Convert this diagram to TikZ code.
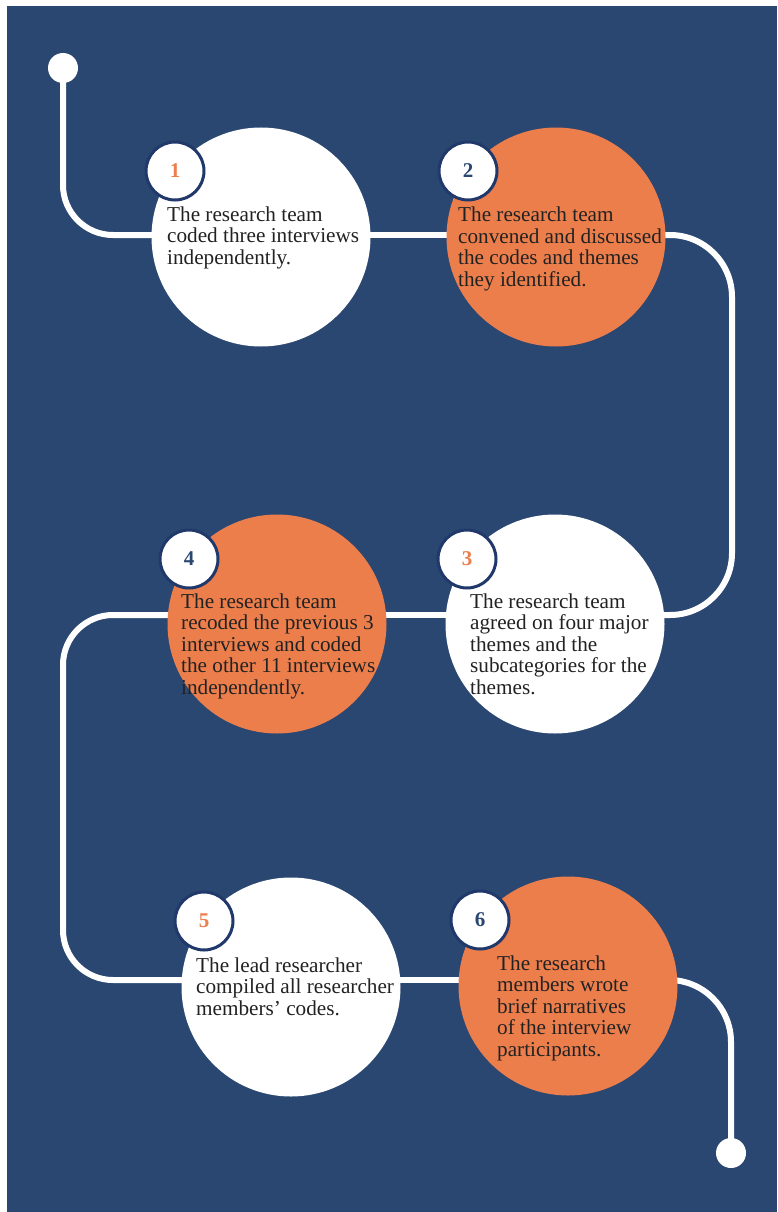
\documentclass[tikz,border=0pt]{standalone}
\usepackage{fontspec}
\setmainfont{Liberation Serif}
\usetikzlibrary{calc}
\definecolor{navy}{HTML}{2A4772}
\definecolor{ring}{HTML}{20396A}
\definecolor{orng}{HTML}{EC7E4C}
\definecolor{txt}{HTML}{222222}
\pgfdeclarelayer{back}
\pgfdeclarelayer{lines}
\pgfsetlayers{back,lines,main}
\tikzset{
  bigw/.style={circle, fill=white, minimum size=219pt, inner sep=0},
  bigo/.style={circle, fill=orng, minimum size=219pt, inner sep=0},
  badge/.style={circle, fill=white, draw=ring, line width=3pt, minimum size=58pt, inner sep=0,
    font=\fontsize{21}{21}\selectfont\bfseries},
  dotend/.style={circle, fill=white, minimum size=30pt, inner sep=0},
  conn/.style={draw=white, line width=6pt},
  desc/.style={anchor=base west, align=left, inner sep=0, text=txt,
    font=\fontsize{21.2}{21.4}\selectfont},
}
\begin{document}
\begin{tikzpicture}[x=1pt,y=-1pt]
\useasboundingbox (0,0) rectangle (777,1212);
\begin{pgfonlayer}{back}
  \fill[navy] (7,6) rectangle (777,1212);
\end{pgfonlayer}
% end dots
\node[dotend] (d1) at (63,68) {};
\node[dotend] (d2) at (731,1153) {};
% big circles
\node[bigw] (c1) at (261,237) {};
\node[bigo] (c2) at (556,237) {};
\node[bigw] (c3) at (555,624) {};
\node[bigo] (c4) at (277,624) {};
\node[bigw] (c5) at (291,987) {};
\node[bigo] (c6) at (568,986) {};
% badges
\node[badge, text=orng] (b1) at (175,171) {1};
\node[badge, text=navy] (b2) at (468,171) {2};
\node[badge, text=orng] (b3) at (467,559) {3};
\node[badge, text=navy] (b4) at (189,559) {4};
\node[badge, text=orng] (b5) at (204,921) {5};
\node[badge, text=navy] (b6) at (480,920) {6};
% texts (anchor = baseline of the last line)
\node[desc] (t1) at (167,264) {The research team\\coded three interviews\\independently.};
\node[desc] (t2) at (458,286) {The research team\\convened and discussed\\the codes and themes\\they identified.};
\node[desc] (t3) at (470,694) {The research team\\agreed on four major\\themes and the\\subcategories for the\\themes.};
\node[desc] (t4) at (181,694) {The research team\\recoded the previous 3\\interviews and coded\\the other 11 interviews\\independently.};
\node[desc] (t5) at (196,1015) {The lead researcher\\compiled all researcher\\members’ codes.};
\node[desc] (t6) at (497,1056) {The research\\members wrote\\brief narratives\\of the interview\\participants.};
% turn points
\coordinate (k1) at (732,235);
\coordinate (k2) at (732,615);
\coordinate (k3) at (63,615);
\coordinate (k4) at (63,980);
\coordinate (k5) at (731,980);
\begin{pgfonlayer}{lines}
  \draw[conn, rounded corners=50pt] (d1.center) |- ($(c1.center)+(0,-2)$);
  \draw[conn] ($(c1.center)+(0,-2)$) -- ($(c2.center)+(0,-2)$);
  \draw[conn, rounded corners=62pt] ($(c2.center)+(0,-2)$) -- (k1) -- (k2) -- ($(c3.center)+(0,-9)$);
  \draw[conn] ($(c3.center)+(0,-9)$) -- ($(c4.center)+(0,-9)$);
  \draw[conn, rounded corners=50pt] ($(c4.center)+(0,-9)$) -- (k3) -- (k4) -- ($(c5.center)+(0,-7)$);
  \draw[conn] ($(c5.center)+(0,-7)$) -- ($(c6.center)+(0,-6)$);
  \draw[conn, rounded corners=62pt] ($(c6.center)+(0,-6)$) -- (k5) -- (d2.center);
\end{pgfonlayer}
\end{tikzpicture}
\end{document}
